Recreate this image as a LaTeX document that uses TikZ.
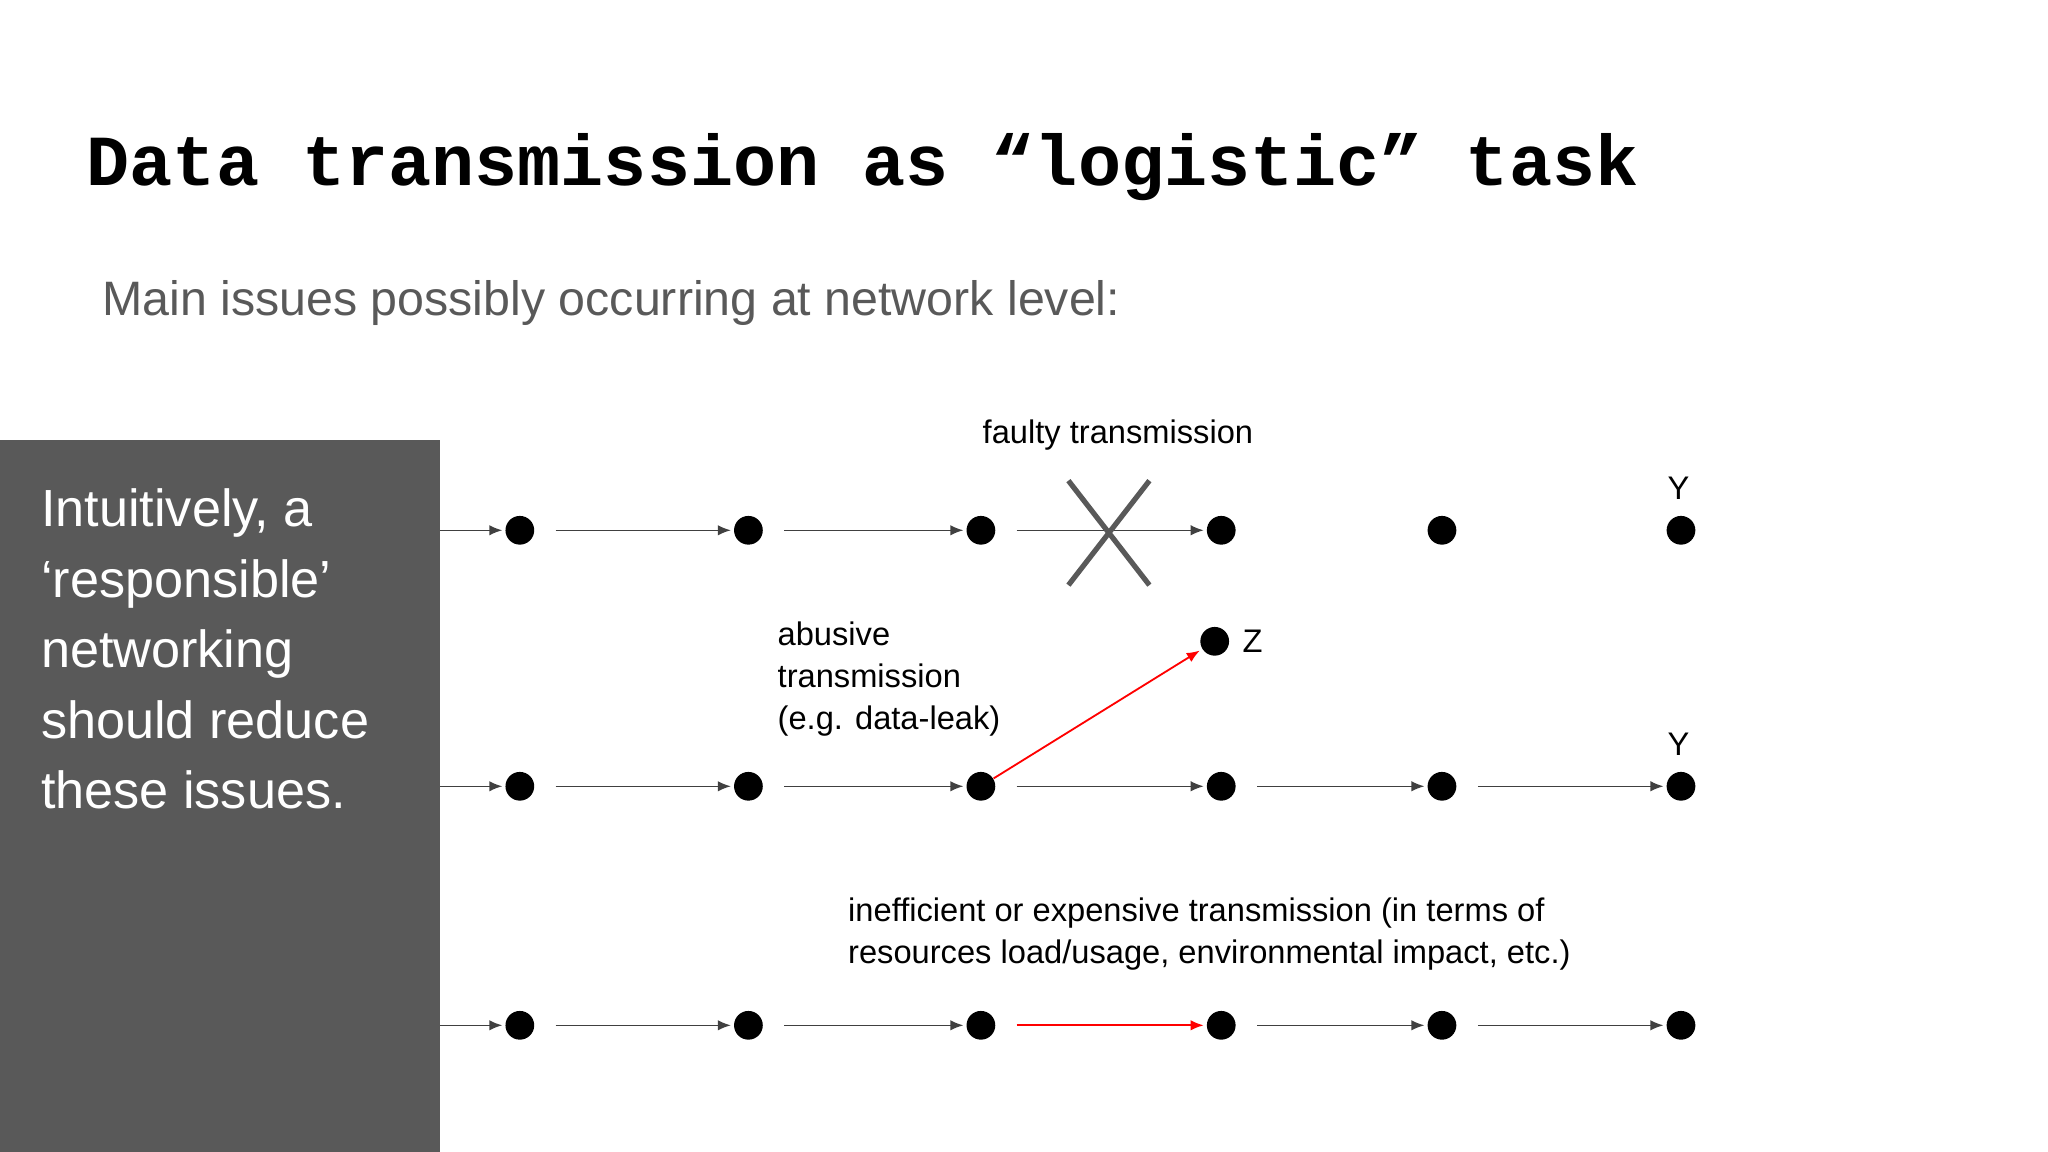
\documentclass[tikz,border=0pt]{standalone}
\usepackage{fontspec}
\setmainfont{Liberation Sans}
\newfontfamily\monob{Liberation Mono}
\usetikzlibrary{arrows.meta}
\definecolor{boxgray}{HTML}{595959}
\definecolor{subgray}{HTML}{595959}
\tikzset{dot/.style={circle,fill=black,inner sep=0pt,minimum size=11pt},
 link/.style={draw=black!75,line width=0.6pt,-{Latex[length=5pt,width=4pt]},shorten <=8pt,shorten >=1pt},
 redlink/.style={link,draw=red,-{Latex[length=5pt,width=4pt,fill=red]},line width=0.7pt},
 lbl/.style={font=\fontsize{12.5}{16}\selectfont,align=left,anchor=west,inner sep=0pt}}
\begin{document}
\begin{tikzpicture}[x=0.5pt,y=-0.5pt]
\useasboundingbox (0,0) rectangle (1568,882);
\fill[white] (0,0) rectangle (1568,882);
\node[anchor=west,inner sep=0pt,font=\monob\bfseries\fontsize{27.5}{30}\selectfont] (title) at (66,128) {Data transmission as “logistic” task};
\node[anchor=west,inner sep=0pt,text=subgray,font=\fontsize{18.5}{22}\selectfont] (sub) at (78,232) {Main issues possibly occurring at network level:};
\fill[boxgray] (0,337) rectangle (337,882);
\node[anchor=north west,inner sep=0pt,text=white,align=left,font=\fontsize{20}{27}\selectfont] (side) at (31,374) {Intuitively, a\\‘responsible’\\networking\\should reduce\\these issues.};
\foreach \r/\y in {a/406,b/602,c/785}{
  \coordinate (\r0) at (337,\y);
  \foreach \i/\x in {1/398,2/573,3/751,4/935,5/1104,6/1287}
    \node[dot] (\r\i) at (\x,\y) {};
}
% row a
\draw[link,shorten <=0pt] (a0) -- (a1);
\draw[link] (a1) -- (a2);
\draw[link] (a2) -- (a3);
\draw[link] (a3) -- (a4);
\coordinate (x1) at (818,368); \coordinate (x2) at (880,448);
\coordinate (x3) at (880,368); \coordinate (x4) at (818,448);
\draw[black!65,line width=2pt] (x1) -- (x2) (x3) -- (x4);
\node[lbl] (lf) at (752,333) {faulty transmission};
\node[lbl,anchor=south] (ya) at (1285,383) {Y};
% row b
\draw[link,shorten <=0pt] (b0) -- (b1);
\foreach \a/\b in {1/2,2/3,3/4,4/5,5/6} \draw[link] (b\a) -- (b\b);
\node[dot] (z) at (930,491) {};
\node[lbl] (zl) at (951,491) {Z};
\draw[redlink,shorten <=0pt] (b3) -- (z);
\node[lbl,anchor=north west] (la) at (595,476) {abusive\\transmission\\(e.g. data-leak)};
\node[lbl,anchor=south] (yb) at (1285,579) {Y};
% row c
\draw[link,shorten <=0pt] (c0) -- (c1);
\foreach \a/\b in {1/2,2/3,4/5,5/6} \draw[link] (c\a) -- (c\b);
\draw[redlink] (c3) -- (c4);
\node[lbl,anchor=north west] (li) at (649,687) {inefficient or expensive transmission (in terms of\\resources load/usage, environmental impact, etc.)};
\end{tikzpicture}
\end{document}
